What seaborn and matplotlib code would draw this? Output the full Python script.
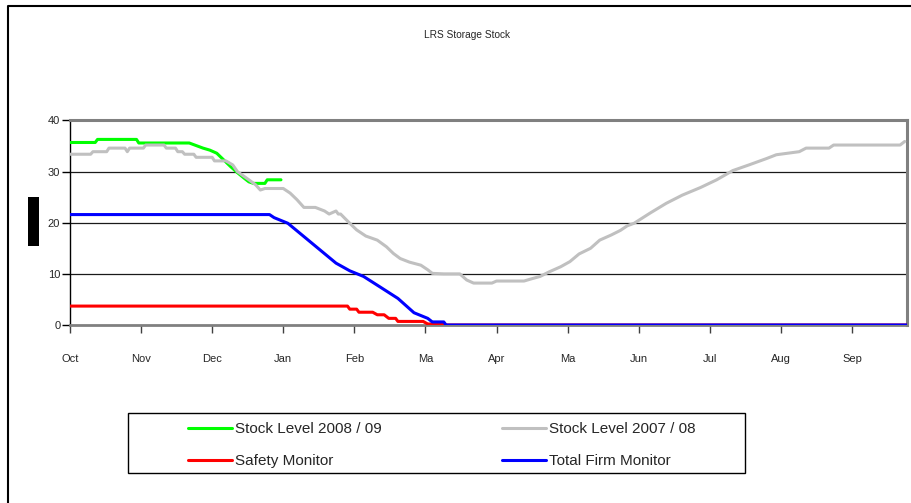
import matplotlib
matplotlib.use("Agg")
import matplotlib.pyplot as plt
from matplotlib.lines import Line2D
from matplotlib.patches import Rectangle
import seaborn as sns
import pandas as pd

# Stock level 2008/09 (day of season, stock)
green_days = [0, 11, 12, 29, 30, 52, 55, 58, 61, 64, 67, 70, 73, 76, 78, 80, 85, 86, 92]
green_vals = [35.7, 35.7, 36.3, 36.3, 35.6, 35.6, 35.1, 34.6, 34.2, 33.6, 32.3, 31.0,
              29.8, 28.7, 28.0, 27.7, 27.7, 28.4, 28.4]

# Stock level 2007/08
gray_days = [0, 9, 10, 16, 17, 24, 25, 26, 32, 33, 41, 42, 46, 47, 49, 50, 54, 55, 62, 63,
             68, 71, 73, 78, 81, 83, 85, 93, 96, 99, 102, 107, 111, 113, 116, 117, 118,
             122, 125, 129, 134, 138, 141, 144, 148, 153, 156, 158, 163, 170, 173, 176,
             184, 186, 198, 201, 205, 209, 214, 218, 222, 227, 231, 236, 240, 243, 246,
             253, 260, 267, 275, 282, 289, 296, 304, 308, 318, 321, 331, 333, 362, 364]
gray_vals = [33.4, 33.4, 33.9, 33.9, 34.6, 34.6, 33.9, 34.6, 34.6, 35.2, 35.2, 34.6, 34.6,
             33.9, 33.9, 33.4, 33.4, 32.8, 32.8, 32.1, 32.1, 31.3, 30.0, 28.4, 27.4, 26.4,
             26.7, 26.7, 25.8, 24.5, 23.0, 23.0, 22.3, 21.7, 22.3, 21.7, 21.7,
             19.9, 18.6, 17.4, 16.6, 15.3, 14.0, 13.0, 12.3, 11.7, 10.8, 10.1, 10.0, 10.0,
             8.8, 8.2, 8.2, 8.6, 8.6, 9.0, 9.5, 10.4, 11.4, 12.4, 13.9, 15.0, 16.6, 17.6,
             18.5, 19.4, 19.9, 21.9, 23.8, 25.4, 26.9, 28.4, 30.2, 31.3, 32.6, 33.3, 33.9,
             34.6, 34.6, 35.2, 35.2, 35.9]

# Safety monitor
red_days = [0, 121, 122, 125, 126, 132, 134, 137, 139, 142, 143, 154, 156, 163, 164, 365]
red_vals = [3.7, 3.7, 3.1, 3.1, 2.5, 2.5, 2.0, 2.0, 1.3, 1.3, 0.7, 0.7, 0.2, 0.2, 0.0, 0.0]

# Total firm monitor
blue_days = [0, 87, 89, 95, 102, 109, 116, 122, 128, 135, 143, 150, 156, 158, 163, 164, 365]
blue_vals = [21.6, 21.6, 21.0, 19.9, 17.3, 14.7, 12.1, 10.6, 9.5, 7.5, 5.2, 2.4, 1.3, 0.6,
             0.6, 0.0, 0.0]

month_ticks = [0, 31, 62, 93, 124, 155, 186, 217, 248, 279, 310, 341]
month_labels = ["Oct", "Nov", "Dec", "Jan", "Feb", "Ma", "Apr", "Ma", "Jun", "Jul", "Aug", "Sep"]
y_ticks = [0, 10, 20, 30, 40]

series = [
    ("Stock Level 2008 / 09", green_days, green_vals, "#00FF00"),
    ("Safety Monitor", red_days, red_vals, "#FF0000"),
    ("Stock Level 2007 / 08", gray_days, gray_vals, "#C0C0C0"),
    ("Total Firm Monitor", blue_days, blue_vals, "#0000FF"),
]

sns.set_style("white")
plt.rcParams["font.family"] = ["Liberation Sans Narrow", "Liberation Sans", "DejaVu Sans"]

W, H = 911, 503
fig = plt.figure(figsize=(W / 100, H / 100), dpi=100)


def fx(px):
    return px / W


def fy(py):
    return 1 - py / H


ax = fig.add_axes([fx(70), fy(325), fx(907) - fx(70), fy(120.5) - fy(325)])

# draw order: grey behind, then green, red, blue on top
draw_order = [2, 0, 1, 3]
handles = {}
for i in draw_order:
    name, d, v, c = series[i]
    df = pd.DataFrame({"day": d, "stock": v})
    sns.lineplot(data=df, x="day", y="stock", ax=ax, color=c, lw=2.2,
                 estimator=None, sort=False, zorder=3 + i)
    handles[name] = Line2D([], [], color=c, lw=2.2)

ax.set_xlim(0, 365)
ax.set_ylim(0, 40)
ax.set_xlabel("")
ax.set_ylabel("")
ax.set_xticks(month_ticks)
ax.set_xticklabels(month_labels)
ax.set_yticks(y_ticks)
ax.tick_params(axis="x", direction="out", length=6, width=1, color="#404040",
               pad=15, labelsize=8, bottom=True)
ax.tick_params(axis="y", direction="out", length=6, width=1, color="#000000",
               pad=1, labelsize=8, left=True)

for yv in [10, 20, 30]:
    ax.axhline(yv, color="#1a1a1a", lw=0.9, zorder=1)

for side in ["top", "right"]:
    ax.spines[side].set_color("#808080")
    ax.spines[side].set_linewidth(2.2)
ax.spines["left"].set_color("#000000")
ax.spines["left"].set_linewidth(1.0)
ax.spines["bottom"].set_color("#808080")
ax.spines["bottom"].set_linewidth(2.0)

fig.text(fx(467), fy(35), "LRS Storage Stock", ha="center", va="center", fontsize=7.3)

# y-axis title block
fig.patches.append(Rectangle((fx(28), fy(246)), fx(39) - fx(28), fy(197) - fy(246),
                             transform=fig.transFigure, facecolor="black",
                             edgecolor="none"))

# outer chart frame (left and top edges)
fig.lines.append(Line2D([fx(8), fx(8), fx(911)], [fy(503), fy(6), fy(6)],
                        transform=fig.transFigure, color="black", lw=1.5))

# legend frame and entries
fig.patches.append(Rectangle((fx(128), fy(473)), fx(745) - fx(128), fy(413) - fy(473),
                             transform=fig.transFigure, facecolor="white",
                             edgecolor="black", lw=1.0))
order = ["Stock Level 2008 / 09", "Safety Monitor", "Stock Level 2007 / 08", "Total Firm Monitor"]
fig.legend([handles[n] for n in order], order, loc="upper left",
           bbox_to_anchor=(fx(188), fy(422)), ncol=2, frameon=False,
           fontsize=11, borderpad=0, borderaxespad=0, handlelength=2.9,
           handletextpad=0.15, labelspacing=1.2, columnspacing=7.9)

fig.savefig("out.png", dpi=100)
